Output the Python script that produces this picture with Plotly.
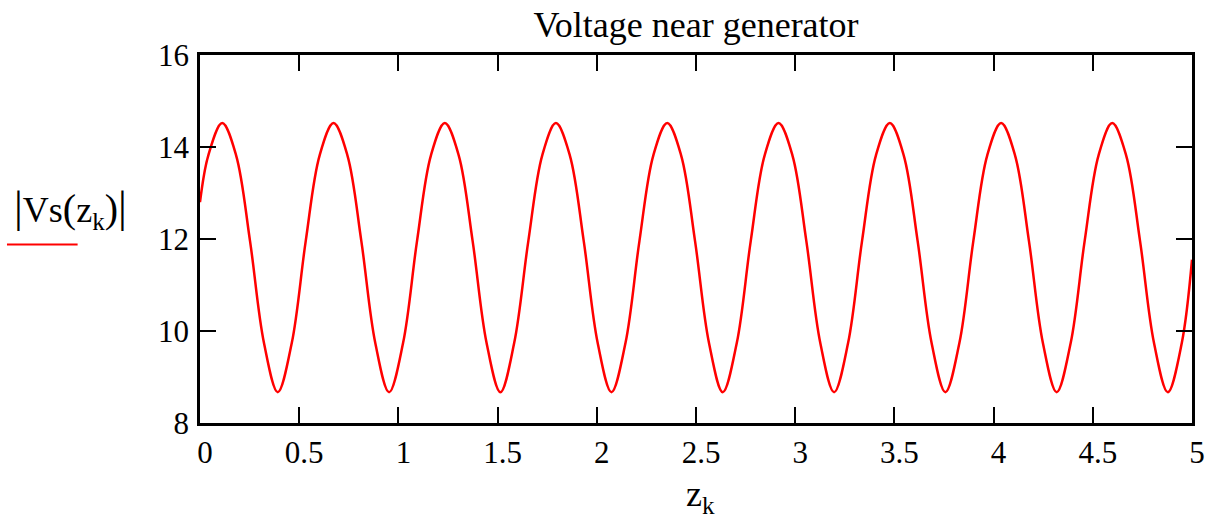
import plotly.graph_objects as go

# Key readings of |Vs(z_k)| taken from the chart (peaks, troughs, and intermediate points)
z_vals = [0.000, 0.042,
          0.112, 0.182, 0.252, 0.322, 0.392, 0.463, 0.533, 0.603,
          0.673, 0.743, 0.813, 0.883, 0.953, 1.024, 1.094, 1.164,
          1.234, 1.304, 1.374, 1.444, 1.514, 1.584, 1.655, 1.725,
          1.794, 1.864, 1.934, 2.004, 2.074, 2.145, 2.215, 2.285,
          2.355, 2.425, 2.495, 2.565, 2.635, 2.706, 2.776, 2.846,
          2.916, 2.986, 3.056, 3.126, 3.196, 3.267, 3.337, 3.407,
          3.477, 3.547, 3.617, 3.687, 3.757, 3.828, 3.898, 3.968,
          4.038, 4.108, 4.178, 4.248, 4.318, 4.389, 4.459, 4.529,
          4.598, 4.668, 4.738, 4.808, 4.878, 4.949,
          5.000]
vs_vals = [12.80, 13.82,
           14.52, 13.82, 11.96, 9.75, 8.67, 9.75, 11.96, 13.82,
           14.52, 13.82, 11.96, 9.75, 8.67, 9.75, 11.96, 13.82,
           14.52, 13.82, 11.96, 9.75, 8.67, 9.75, 11.96, 13.82,
           14.52, 13.82, 11.96, 9.75, 8.67, 9.75, 11.96, 13.82,
           14.52, 13.82, 11.96, 9.75, 8.67, 9.75, 11.96, 13.82,
           14.52, 13.82, 11.96, 9.75, 8.67, 9.75, 11.96, 13.82,
           14.52, 13.82, 11.96, 9.75, 8.67, 9.75, 11.96, 13.82,
           14.52, 13.82, 11.96, 9.75, 8.67, 9.75, 11.96, 13.82,
           14.52, 13.82, 11.96, 9.75, 8.67, 9.75,
           11.55]

x_tick_vals = [0, 0.5, 1, 1.5, 2, 2.5, 3, 3.5, 4, 4.5, 5]
x_tick_text = ["0", "0.5", "1", "1.5", "2", "2.5", "3", "3.5", "4", "4.5", "5"]
y_tick_vals = [8, 10, 12, 14, 16]
y_tick_text = ["8", "10", "12", "14", "16"]

title_text = "Voltage near generator"
y_label = ('<span style="font-size:44px">|</span>Vs<span style="font-size:40px">(</span>'
           'z<sub>k</sub><span style="font-size:40px">)</span><span style="font-size:44px">|</span>')
x_label = "z<sub>k</sub>"

FONT = "Liberation Serif"
W, H = 1217, 520
ML, MR, MT, MB = 200, 20, 55, 97
PW, PH = W - ML - MR, H - MT - MB

fig = go.Figure()
fig.add_trace(go.Scatter(x=z_vals, y=vs_vals, mode="lines",
                         line=dict(color="#ff0000", width=2.5, shape="spline", smoothing=1.0),
                         showlegend=False, hoverinfo="skip"))

axis_common = dict(showline=True, linecolor="black", linewidth=2.5, mirror="ticks",
                   ticks="inside", ticklen=16, tickwidth=2, tickcolor="black",
                   showgrid=False, zeroline=False,
                   tickfont=dict(family=FONT, size=31, color="black"))

fig.update_xaxes(range=[0, 5], tickmode="array", tickvals=x_tick_vals, ticktext=x_tick_text,
                 ticklabelstandoff=0, ticklabelshift=5, **axis_common)
fig.update_yaxes(range=[8, 16], tickmode="array", tickvals=y_tick_vals, ticktext=y_tick_text,
                 ticklabelstandoff=2, **axis_common)

fig.update_layout(
    width=W, height=H,
    margin=dict(l=ML, r=MR, t=MT, b=MB, pad=0),
    paper_bgcolor="white", plot_bgcolor="white",
    font=dict(family=FONT, color="black"),
    title=dict(text=title_text, x=0.5, xref="paper", xanchor="center",
               y=1 - 24 / H, yref="container", yanchor="middle",
               font=dict(family=FONT, size=36, color="black")),
)

# y-axis label (horizontal, Mathcad style) with its trace sample line beneath
fig.add_annotation(text=y_label, xref="paper", yref="paper",
                   x=(70 - ML) / PW, y=(H - MB - 209) / PH,
                   xanchor="center", yanchor="middle", showarrow=False,
                   font=dict(family=FONT, size=36, color="black"))
fig.add_shape(type="line", xref="paper", yref="paper",
              x0=(6 - ML) / PW, x1=(77 - ML) / PW,
              y0=(H - MB - 244.5) / PH, y1=(H - MB - 244.5) / PH,
              line=dict(color="#ff0000", width=2))

# x-axis label
fig.add_annotation(text=x_label, xref="paper", yref="paper",
                   x=(703 - ML) / PW, y=(H - MB - 496) / PH,
                   xanchor="center", yanchor="middle", showarrow=False,
                   font=dict(family=FONT, size=36, color="black"))

fig.write_html("out.html")
